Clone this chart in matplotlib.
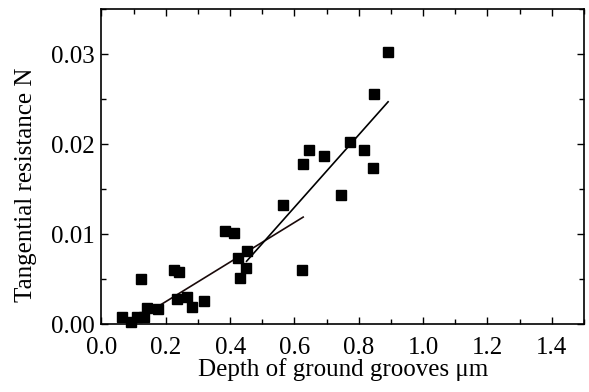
"""
Tangential resistance vs. depth of ground grooves
"""
import matplotlib
matplotlib.use('Agg')  # no display
import matplotlib.pyplot as plt
from matplotlib.ticker import MultipleLocator

plt.rcParams['font.family'] = ['Liberation Serif', 'DejaVu Serif']
plt.rcParams['font.size'] = 18

# measured points
depth = [0.063, 0.092, 0.109, 0.132, 0.140, 0.122, 0.176, 0.225, 0.242, 0.235,
         0.267, 0.281, 0.320, 0.384, 0.411, 0.425, 0.432, 0.453, 0.448, 0.565,
         0.623, 0.746, 0.891, 0.848, 0.772, 0.645, 0.692, 0.625, 0.816, 0.844]
resistance = [0.0008, 0.0003, 0.0008, 0.0008, 0.0018, 0.0050, 0.0017, 0.0060,
              0.0058, 0.0028, 0.0030, 0.0019, 0.0026, 0.0104, 0.0101, 0.0074,
              0.0051, 0.0081, 0.0063, 0.0132, 0.0060, 0.0144, 0.0302, 0.0256,
              0.0202, 0.0193, 0.0187, 0.0178, 0.0193, 0.0173]

# two linear fits (end points)
fit1_x = [0.099, 0.627]
fit1_y = [0.0003, 0.0119]
fit2_x = [0.451, 0.891]
fit2_y = [0.0070, 0.0247]

fig = plt.figure(figsize=(5.89, 3.92), dpi=100)
ax = fig.add_axes([0.1723, 0.1727, 0.8192, 0.8043])

ax.plot(fit1_x, fit1_y, color="#1a0a0a", linewidth=1.2)
ax.plot(fit2_x, fit2_y, color="black", linewidth=1.2)
ax.plot(depth, resistance, linestyle='none', marker='s', markersize=7,
        color="black", clip_on=False)

ax.set_xlim(0, 1.5)
ax.set_ylim(0, 0.035)
ax.xaxis.set_major_locator(MultipleLocator(0.2))
ax.xaxis.set_minor_locator(MultipleLocator(0.1))
ax.yaxis.set_major_locator(MultipleLocator(0.01))
ax.yaxis.set_minor_locator(MultipleLocator(0.005))
ax.set_xticks([0.0, 0.2, 0.4, 0.6, 0.8, 1.0, 1.2, 1.4])
ax.set_xticklabels(["0.0", "0.2", "0.4", "0.6", "0.8", "1.0", "1.2", "1.4"])
ax.set_yticks([0.0, 0.01, 0.02, 0.03])
ax.set_yticklabels(["0.00", "0.01", "0.02", "0.03"])

ax.tick_params(which='both', direction='in', top=True, right=True, width=1)
ax.tick_params(which='major', length=5)
ax.tick_params(which='minor', length=3.5)
ax.tick_params(axis='x', which='major', pad=9)
ax.tick_params(axis='y', which='major', pad=5)
for s in ax.spines.values():
    s.set_linewidth(1.2)

ax.set_xlabel("Depth of ground grooves μm", fontsize=18)
ax.set_ylabel("Tangential resistance N", fontsize=18)
ax.xaxis.set_label_coords(0.5, -0.108)
ax.yaxis.set_label_coords(-0.134, 0.442)

fig.savefig("out.png", dpi=100)
plt.close(fig)
